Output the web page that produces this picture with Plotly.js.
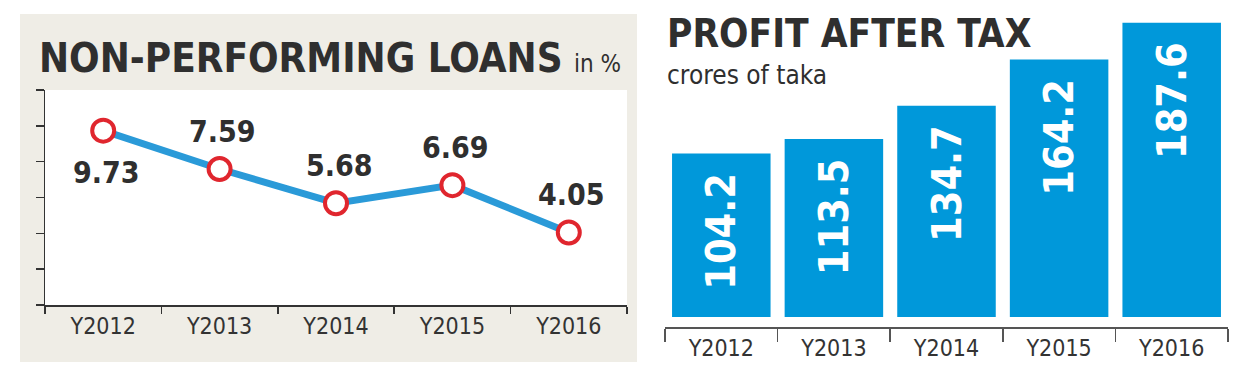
<!DOCTYPE html>
<html>
<head>
<meta charset="utf-8">
<script src="https://cdn.plot.ly/plotly-3.0.1.min.js"></script>
<style>
html,body{margin:0;padding:0;background:#fff;}
#chart{width:1235px;height:379px;}
</style>
</head>
<body>
<div id="chart"></div>
<script>
// ---- data ----
var years = ["Y2012", "Y2013", "Y2014", "Y2015", "Y2016"];
var nplValues = [9.73, 7.59, 5.68, 6.69, 4.05];
var nplLabelBelow = [true, false, false, false, false];
var profitValues = [104.2, 113.5, 134.7, 164.2, 187.6];

var W = 1235, H = 379;
function px(x) { return x / W; }
function py(y) { return 1 - y / H; }

var FONT = '"Liberation Sans Narrow", "DejaVu Sans Condensed", "Roboto", sans-serif';
var DARK = "#2f2f2f";

var traces = [
  {
    type: "scatter",
    mode: "lines+markers",
    x: years,
    y: nplValues,
    line: { color: "#2a9ad8", width: 7 },
    marker: { size: 22, color: "#ffffff", line: { color: "#e0262e", width: 4 } },
    xaxis: "x", yaxis: "y",
    cliponaxis: false,
    hoverinfo: "skip"
  },
  {
    type: "bar",
    x: years,
    y: profitValues,
    texttemplate: "%{y:.1f}\u00a0\u200a",
    textposition: "inside",
    insidetextanchor: "end",
    textangle: -90,
    constraintext: "none",
    textfont: { family: FONT, size: 41, color: "#ffffff", weight: 700 },
    marker: { color: "#0098da", line: { width: 0 } },
    xaxis: "x2", yaxis: "y2",
    hoverinfo: "skip"
  }
];

var nplAnnotations = years.map(function (yr, i) {
  return {
    xref: "x", yref: "y", x: yr, y: nplValues[i],
    text: "<b>" + nplValues[i].toFixed(2) + "</b>",
    showarrow: false,
    xanchor: "center", yanchor: "middle",
    xshift: 3,
    yshift: nplLabelBelow[i] ? -42 : 38,
    font: { family: FONT, size: 30, color: DARK }
  };
});

var layout = {
  width: W, height: H,
  margin: { l: 0, r: 0, t: 0, b: 0 },
  paper_bgcolor: "#ffffff",
  plot_bgcolor: "rgba(0,0,0,0)",
  showlegend: false,
  bargap: 0.125,
  font: { family: FONT, color: DARK },
  xaxis: {
    domain: [px(45), px(627)],
    type: "category",
    range: [-0.5, 4.5],
    tickson: "boundaries",
    ticks: "outside", ticklen: 7, tickcolor: "#333", tickwidth: 1.5,
    showline: true, linecolor: "#333", linewidth: 1.5,
    showgrid: false, zeroline: false,
    tickfont: { family: FONT, size: 23, color: "#333" },
    anchor: "y", fixedrange: true
  },
  yaxis: {
    domain: [py(305), py(90)],
    range: [0, 12], dtick: 2,
    ticks: "outside", ticklen: 8, tickcolor: "#333", tickwidth: 1.5,
    showticklabels: false,
    showline: true, linecolor: "#333", linewidth: 1.5,
    showgrid: false, zeroline: false,
    anchor: "x", fixedrange: true
  },
  xaxis2: {
    domain: [px(665), px(1228)],
    type: "category",
    range: [-0.5, 4.5],
    tickson: "boundaries",
    ticks: "outside", ticklen: 13, tickcolor: "#555", tickwidth: 1.5,
    showline: true, linecolor: "#555", linewidth: 1.5,
    showgrid: false, zeroline: false,
    tickfont: { family: FONT, size: 23, color: "#333" },
    anchor: "y2", fixedrange: true
  },
  yaxis2: {
    domain: [py(327), py(12)],
    range: [-6.4, 194.5],
    visible: false,
    showgrid: false, zeroline: false,
    anchor: "x2", fixedrange: true
  },
  shapes: [
    { type: "rect", xref: "paper", yref: "paper", layer: "below",
      x0: px(20), x1: px(637), y0: py(362), y1: py(14),
      fillcolor: "#efede6", line: { width: 0 } },
    { type: "rect", xref: "paper", yref: "paper", layer: "below",
      x0: px(45), x1: px(627), y0: py(305), y1: py(90),
      fillcolor: "#ffffff", line: { width: 0 } }
  ],
  annotations: [
    { xref: "paper", yref: "paper", x: px(37), y: py(58), xanchor: "left", yanchor: "middle",
      showarrow: false,
      text: "<b>NON-PERFORMING LOANS</b> <span style='font-size:24px'>in %</span>",
      font: { family: FONT, size: 40, color: DARK } },
    { xref: "paper", yref: "paper", x: px(665), y: py(33), xanchor: "left", yanchor: "middle",
      showarrow: false,
      text: "<b>PROFIT AFTER TAX</b>",
      font: { family: FONT, size: 38.5, color: DARK } },
    { xref: "paper", yref: "paper", x: px(665), y: py(75), xanchor: "left", yanchor: "middle",
      showarrow: false,
      text: "crores of taka",
      font: { family: FONT, size: 26, color: DARK } }
  ].concat(nplAnnotations)
};

Plotly.newPlot("chart", traces, layout, { staticPlot: true, displayModeBar: false });
</script>
</body>
</html>
